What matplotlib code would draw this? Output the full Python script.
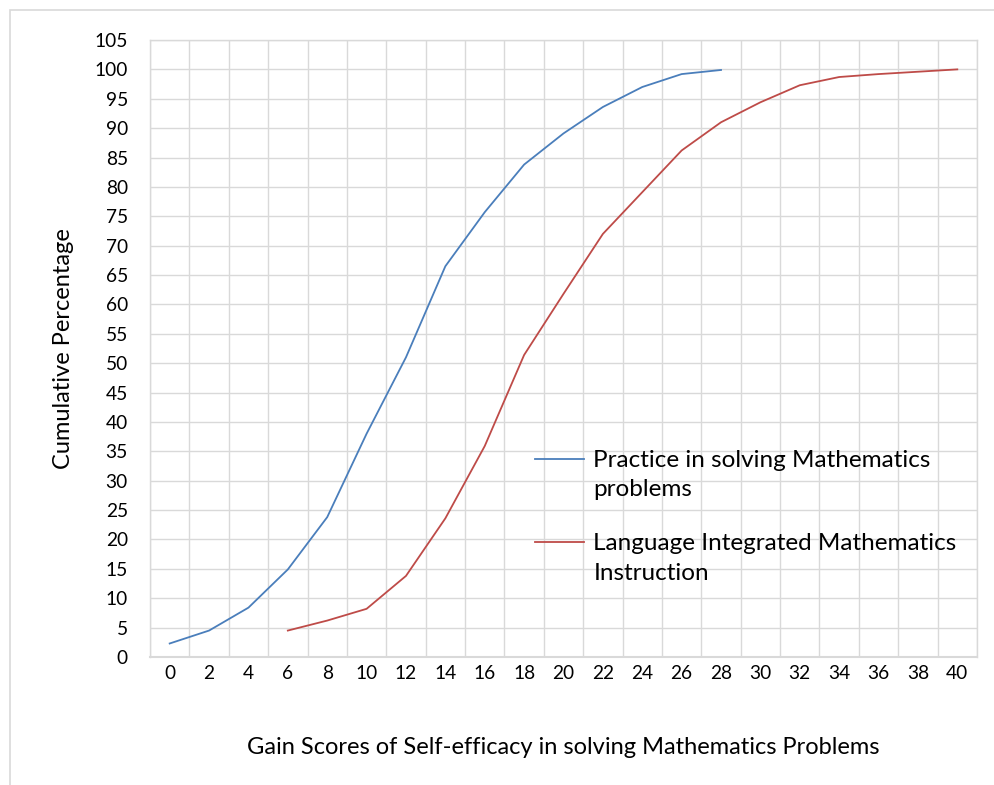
import matplotlib
matplotlib.use("Agg")
import matplotlib.pyplot as plt
from matplotlib.patches import Rectangle

plt.rcParams['font.family'] = ['Lato', 'DejaVu Sans']

# gain score categories (x axis)
gain_scores = [0, 2, 4, 6, 8, 10, 12, 14, 16, 18, 20, 22, 24, 26, 28, 30, 32, 34, 36, 38, 40]

# cumulative percentages
practice_pct = [2.3, 4.5, 8.4, 14.9, 23.8, 38.0, 51.0, 66.5, 75.7, 83.8, 89.1, 93.6, 97.0, 99.2, 99.9]
limi_pct = [4.5, 6.2, 8.2, 13.8, 23.6, 35.9, 51.4, 61.8, 72.0, 79.1, 86.2, 91.0, 94.4, 97.3, 98.7, 99.2, 99.6, 100.0]

practice_label = "Practice in solving Mathematics\nproblems"
limi_label = "Language Integrated Mathematics\nInstruction"

y_ticks = list(range(0, 106, 5))

blue = "#4a7ebb"
red = "#be4b48"
grid_col = "#d9d9d9"

fig = plt.figure(figsize=(9.95, 7.85), dpi=100)
# chart area outline
fig.patches.append(Rectangle((10 / 995, -0.01), 1.0, 1 - 10 / 785 + 0.01,
                             transform=fig.transFigure, fill=False,
                             edgecolor=grid_col, linewidth=1.2))

ax = fig.add_axes([150 / 995, 1 - 657 / 785, (977 - 150) / 995, (657 - 40) / 785])

# series are placed on a category axis (index positions)
x_practice = list(range(len(practice_pct)))
start = gain_scores.index(6)
x_limi = list(range(start, start + len(limi_pct)))

ax.plot(x_practice, practice_pct, color=blue, linewidth=1.3, label=practice_label)
ax.plot(x_limi, limi_pct, color=red, linewidth=1.3, label=limi_label)

ax.set_xlim(-0.5, len(gain_scores) - 0.5)
ax.set_ylim(0, 105)
ax.set_xticks(range(len(gain_scores)))
ax.set_xticklabels([str(g) for g in gain_scores])
ax.set_xticks([i - 0.5 for i in range(len(gain_scores) + 1)], minor=True)
ax.set_yticks(y_ticks)

ax.grid(True, which='minor', axis='x', color=grid_col, linewidth=1.0)
ax.grid(True, which='major', axis='y', color=grid_col, linewidth=1.0)
ax.set_axisbelow(True)
for s in ax.spines.values():
    s.set_color(grid_col)
    s.set_linewidth(1.0)
ax.spines['bottom'].set_linewidth(1.5)

ax.tick_params(axis='both', which='both', length=0, labelsize=13.8, colors='black')
ax.tick_params(axis='x', pad=6)
ax.tick_params(axis='y', pad=16)

ax.set_xlabel("Gain Scores of Self-efficacy in solving Mathematics Problems", fontsize=17, labelpad=39)
ax.set_ylabel("Cumulative Percentage", fontsize=17, labelpad=15)

leg = ax.legend(loc='upper left', bbox_to_anchor=(535 / 995, 1 - 450 / 785),
                bbox_transform=fig.transFigure, frameon=False, fontsize=17.5,
                handlelength=2.0, handletextpad=0.4, labelspacing=1.35,
                borderpad=0, borderaxespad=0)
for t in leg.get_texts():
    t.set_linespacing(1.5)
# Excel style: legend key sits on the first line of a wrapped label
for ln in leg.get_lines():
    ln.set_ydata([y + 12 for y in ln.get_ydata()])

fig.savefig("out.png", dpi=100)
